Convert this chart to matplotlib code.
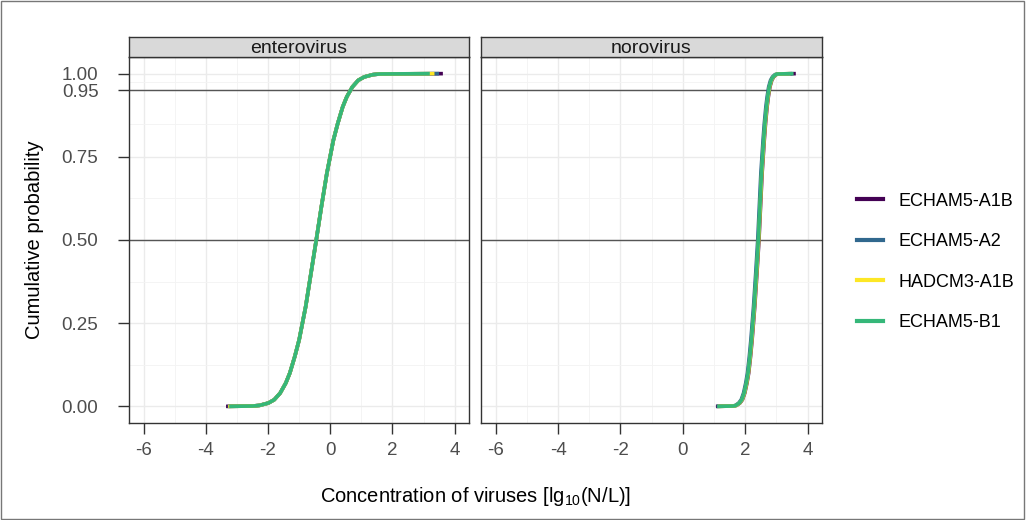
import matplotlib
matplotlib.use("Agg")
import matplotlib.pyplot as plt
from matplotlib.lines import Line2D
from matplotlib.patches import Rectangle

plt.rcParams['font.family'] = ['Liberation Sans', 'DejaVu Sans']
plt.rcParams['axes.unicode_minus'] = False
plt.rcParams['mathtext.fontset'] = 'custom'
plt.rcParams['mathtext.rm'] = 'Liberation Sans'
plt.rcParams['mathtext.it'] = 'Liberation Sans:italic'

# ---------------- data ----------------
viruses = ["enterovirus", "norovirus"]
scenarios = ["ECHAM5-A1B", "ECHAM5-A2", "HADCM3-A1B", "ECHAM5-B1"]
colors = ["#440154", "#31688E", "#FDE725", "#35B779"]

# cumulative probability levels
prob = [0, 0.001, 0.003, 0.01, 0.02, 0.04, 0.07, 0.1, 0.15, 0.2, 0.3, 0.4, 0.5,
        0.6, 0.7, 0.8, 0.85, 0.9, 0.93, 0.96, 0.98, 0.99, 0.997, 0.999, 1.0]

# enterovirus concentration quantiles per scenario
entero_a1b = [-3.35, -2.49, -2.27, -1.99, -1.80, -1.61, -1.43, -1.30, -1.14, -1.00, -0.79, -0.62, -0.45,
              -0.285, -0.11, 0.10, 0.24, 0.40, 0.53, 0.71, 0.90, 1.09, 1.37, 1.59, 3.62]
entero_a2 = [-3.30, -2.49, -2.27, -1.99, -1.80, -1.61, -1.43, -1.30, -1.14, -1.00, -0.79, -0.62, -0.45,
             -0.285, -0.11, 0.10, 0.24, 0.40, 0.53, 0.71, 0.90, 1.09, 1.37, 1.59, 3.50]
entero_had = [-3.28, -2.49, -2.27, -1.99, -1.80, -1.61, -1.43, -1.30, -1.14, -1.00, -0.79, -0.62, -0.45,
              -0.285, -0.11, 0.10, 0.24, 0.40, 0.53, 0.71, 0.90, 1.09, 1.37, 1.59, 3.35]
entero_b1 = [-3.25, -2.49, -2.27, -1.99, -1.80, -1.61, -1.43, -1.30, -1.14, -1.00, -0.79, -0.62, -0.45,
             -0.285, -0.11, 0.10, 0.24, 0.40, 0.53, 0.71, 0.90, 1.09, 1.37, 1.59, 3.20]

# norovirus concentration quantiles per scenario
noro_a1b = [1.06, 1.64, 1.725, 1.83, 1.91, 1.985, 2.055, 2.11, 2.17, 2.22, 2.305, 2.375, 2.44,
            2.49, 2.54, 2.61, 2.65, 2.70, 2.74, 2.79, 2.85, 2.91, 2.99, 3.06, 3.62]
noro_a2 = [1.08, 1.60, 1.685, 1.79, 1.87, 1.945, 2.015, 2.07, 2.13, 2.18, 2.265, 2.335, 2.40,
           2.45, 2.50, 2.57, 2.61, 2.66, 2.70, 2.75, 2.81, 2.87, 2.95, 3.02, 3.50]
noro_had = [1.12, 1.63, 1.715, 1.82, 1.90, 1.975, 2.045, 2.10, 2.16, 2.21, 2.295, 2.365, 2.43,
            2.48, 2.53, 2.60, 2.64, 2.69, 2.73, 2.78, 2.84, 2.90, 2.98, 3.05, 3.45]
noro_b1 = [1.10, 1.62, 1.705, 1.81, 1.89, 1.965, 2.035, 2.09, 2.15, 2.20, 2.285, 2.355, 2.42,
           2.47, 2.52, 2.59, 2.63, 2.68, 2.72, 2.77, 2.83, 2.89, 2.97, 3.04, 3.55]

curves = {
    "enterovirus": [entero_a1b, entero_a2, entero_had, entero_b1],
    "norovirus": [noro_a1b, noro_a2, noro_had, noro_b1],
}

x_ticks = [-6, -4, -2, 0, 2, 4]
x_minor = [-5, -3, -1, 1, 3]
y_ticks = [0.00, 0.25, 0.50, 0.75, 0.95, 1.00]
y_tick_labels = ["0.00", "0.25", "0.50", "0.75", "0.95", "1.00"]
y_minor = [0.125, 0.375, 0.625, 0.85, 0.975]
ref_lines = [0.5, 0.95]

# ---------------- figure ----------------
W, H = 1026, 520
fig = plt.figure(figsize=(W / 100, H / 100), dpi=100)
fig.patch.set_facecolor("white")

def fx(px):
    return px / W

def fy(py):
    return 1 - py / H

panel_x = [(129, 469), (481, 822)]
panel_top, panel_bot = 57, 423
strip_top = 37

dark = "#333333"
for i, v in enumerate(viruses):
    x0, x1 = panel_x[i]
    ax = fig.add_axes([fx(x0), fy(panel_bot), fx(x1 - x0), (panel_bot - panel_top) / H])
    ax.set_xlim(-6.47, 4.46)
    ax.set_ylim(-0.05, 1.05)
    ax.set_xticks(x_ticks)
    ax.set_xticks(x_minor, minor=True)
    ax.set_yticks(y_ticks)
    ax.set_yticks(y_minor, minor=True)
    ax.grid(True, which="major", color="#EBEBEB", lw=1.0)
    ax.grid(True, which="minor", color="#F3F3F3", lw=0.6)
    ax.set_axisbelow(True)
    for s in ax.spines.values():
        s.set_color(dark)
        s.set_linewidth(1.0)
    ax.tick_params(which="minor", length=0)
    ax.tick_params(which="major", length=8, width=1.0, color=dark,
                   labelcolor="#4D4D4D", labelsize=13.5)
    ax.tick_params(axis="y", pad=14)
    ax.tick_params(axis="x", pad=6)
    if i == 0:
        ax.set_yticklabels(y_tick_labels)
    else:
        ax.tick_params(axis="y", labelleft=False, length=0)
    for r in ref_lines:
        ax.axhline(r, color="#555555", lw=1.0, zorder=1.5)
    for c, xs in zip(colors, curves[v]):
        ax.plot(xs, prob, color=c, lw=2.6, solid_capstyle="butt", zorder=2)
    # strip
    sax = fig.add_axes([fx(x0), fy(panel_top), fx(x1 - x0), (panel_top - strip_top) / H])
    sax.set_facecolor("#D9D9D9")
    sax.set_xticks([])
    sax.set_yticks([])
    for s in sax.spines.values():
        s.set_color(dark)
        s.set_linewidth(1.0)
    sax.text(0.5, 0.42, v, ha="center", va="center", fontsize=14,
             color="#1A1A1A", transform=sax.transAxes)

fig.text(fx(35), fy(240), "Cumulative probability", rotation=90,
         ha="center", va="center", fontsize=14.5, color="black")
fig.text(fx(476), fy(497), r"Concentration of viruses [lg$_{10}$(N/L)]",
         ha="center", va="center", fontsize=14.5, color="black")

handles = [Line2D([0], [0], color=c, lw=3.0) for c in colors]
fig.legend(handles, scenarios, loc="center left", bbox_to_anchor=(fx(850), fy(262)),
           frameon=False, fontsize=13, handlelength=1.4, handletextpad=0.9,
           labelspacing=1.3, borderaxespad=0)

fig.add_artist(Rectangle((0.0005, 0.001), 0.998, 0.997, transform=fig.transFigure,
                         fill=False, edgecolor="#777777", lw=1.0))

fig.savefig("out.png", dpi=100)
